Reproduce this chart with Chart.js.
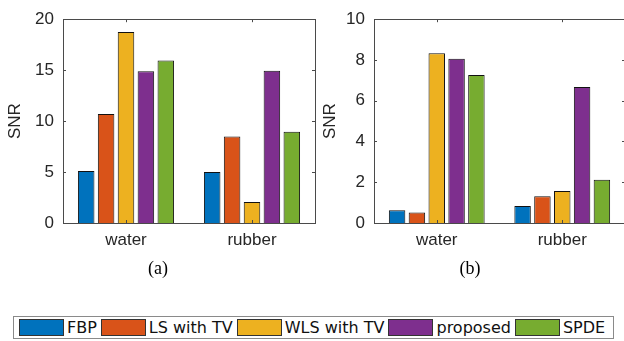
<!DOCTYPE html>
<html>
<head>
<meta charset="utf-8">
<script src="https://cdn.jsdelivr.net/npm/chart.js@4/dist/chart.umd.min.js"></script>
<style>
  html, body { margin: 0; padding: 0; background: #fff; }
  body { width: 624px; height: 341px; position: relative; overflow: hidden; }
  .panel { position: absolute; top: 0; height: 290px; }
  #panelA { left: 0; width: 330px; }
  #panelB { left: 315px; width: 315px; }
  .caption {
    position: absolute; top: 258px; width: 60px; text-align: center;
    font-family: 'Liberation Serif', 'Times New Roman', serif; font-size: 18px; color: #000;
  }
  #legend {
    position: absolute; left: 13px; top: 316px; width: 594px; height: 21px;
    border: 1px solid #8a8a8a; display: flex; align-items: center;
    font-family: 'DejaVu Sans', sans-serif; font-size: 16px; color: #111;
    box-sizing: content-box; padding-left: 5px; white-space: nowrap;
  }
  .item { display: flex; align-items: center; margin-right: 4px; flex-shrink: 0; }
  .swatch { width: 43px; height: 15px; border: 1px solid #333; margin-right: 3px; }
</style>
</head>
<body>
<div class="panel" id="panelA"><canvas id="chartA"></canvas></div>
<div class="panel" id="panelB"><canvas id="chartB"></canvas></div>
<div class="caption" style="left:128px">(a)</div>
<div class="caption" style="left:440px">(b)</div>
<div id="legend"></div>
<script>
const categories = ['water', 'rubber'];
const methods = ['FBP', 'LS with TV', 'WLS with TV', 'proposed', 'SPDE'];
const colors = ['#0072BD', '#D95319', '#EDB120', '#7E2F8E', '#77AC30'];

// panel (a)
const fbpA = [5.1, 5.0];
const lsA = [10.7, 8.5];
const wlsA = [18.75, 2.05];
const propA = [14.9, 14.95];
const spdeA = [15.95, 8.95];
const ticksA = [0, 5, 10, 15, 20];

// panel (b)
const fbpB = [0.62, 0.84];
const lsB = [0.51, 1.31];
const wlsB = [8.33, 1.57];
const propB = [8.06, 6.67];
const spdeB = [7.26, 2.12];
const ticksB = [0, 2, 4, 6, 8, 10];

const axisColor = '#262626';
const tickFont = { family: "'Liberation Sans', Arial, sans-serif", size: 17 };

// draws the matlab style box with inward ticks
const boxPlugin = {
  id: 'box',
  afterDraw(chart) {
    const { ctx, chartArea: { left, right, top, bottom }, scales: { x, y } } = chart;
    ctx.save();
    ctx.strokeStyle = '#4a4a4a';
    ctx.lineWidth = 1;
    ctx.strokeRect(Math.round(left) + 0.5, Math.round(top) + 0.5, Math.round(right - left), Math.round(bottom - top));
    ctx.beginPath();
    y.ticks.forEach((t, i) => {
      const py = Math.round(y.getPixelForTick(i)) + 0.5;
      ctx.moveTo(left, py); ctx.lineTo(left + 3, py);
      ctx.moveTo(right - 3, py); ctx.lineTo(right, py);
    });
    x.ticks.forEach((t, i) => {
      const px = Math.round(x.getPixelForTick(i)) + 0.5;
      ctx.moveTo(px, bottom); ctx.lineTo(px, bottom - 3);
      ctx.moveTo(px, top); ctx.lineTo(px, top + 3);
    });
    ctx.stroke();
    ctx.restore();
  }
};

function makeChart(id, series, ticks, yWidth, padRight) {
  const ctx = document.getElementById(id).getContext('2d');
  return new Chart(ctx, {
    type: 'bar',
    data: {
      labels: categories,
      datasets: methods.map((m, i) => ({
        label: m,
        data: series[i],
        backgroundColor: colors[i],
        borderColor: '#111',
        borderWidth: 1,
        categoryPercentage: 0.79,
        barPercentage: 0.83
      }))
    },
    options: {
      responsive: true,
      maintainAspectRatio: false,
      animation: false,
      layout: { padding: { top: 14, right: padRight, left: 0, bottom: 0 } },
      plugins: { legend: { display: false }, tooltip: { enabled: false } },
      scales: {
        x: {
          grid: { display: false, drawTicks: false },
          border: { display: false },
          ticks: { color: axisColor, font: tickFont, padding: 7 },
          afterFit(scale) { scale.height = 67; }
        },
        y: {
          min: ticks[0],
          max: ticks[ticks.length - 1],
          grid: { display: false, drawTicks: false },
          border: { display: false },
          ticks: { color: axisColor, font: tickFont, padding: 9 },
          afterBuildTicks(scale) { scale.ticks = ticks.map(v => ({ value: v })); },
          title: {
            display: true, text: 'SNR', color: axisColor,
            font: { family: "'Liberation Sans', Arial, sans-serif", size: 17 },
            padding: { top: 5, bottom: 0 }
          },
          afterFit(scale) { scale.width = yWidth; }
        }
      }
    },
    plugins: [boxPlugin]
  });
}

makeChart('chartA', [fbpA, lsA, wlsA, propA, spdeA], ticksA, 63, 15);
makeChart('chartB', [fbpB, lsB, wlsB, propB, spdeB], ticksB, 59, 5);

const legend = document.getElementById('legend');
methods.forEach((m, i) => {
  const item = document.createElement('div');
  item.className = 'item';
  const sw = document.createElement('span');
  sw.className = 'swatch';
  sw.style.background = colors[i];
  item.appendChild(sw);
  item.appendChild(document.createTextNode(m));
  legend.appendChild(item);
});
</script>
</body>
</html>
